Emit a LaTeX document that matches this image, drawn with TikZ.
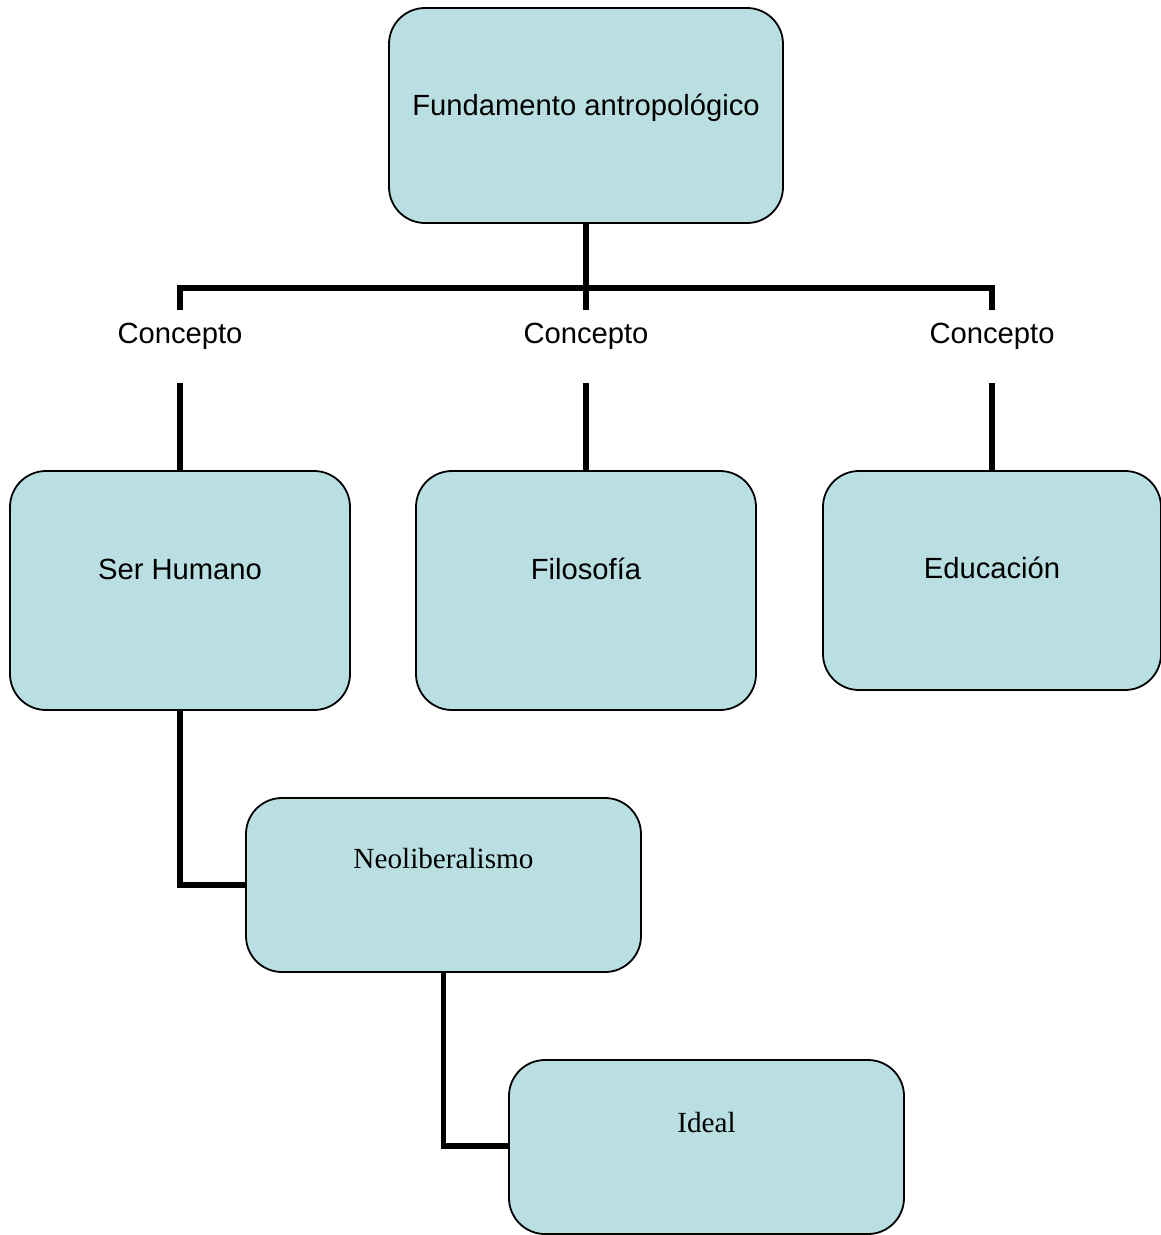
\documentclass[tikz,border=0pt]{standalone}
\usepackage{fontspec}
\setmainfont{Liberation Sans}
\newfontfamily\timesfont{Liberation Serif}
\definecolor{boxfill}{RGB}{186,223,226}
\begin{document}
\begin{tikzpicture}[x=1pt,y=-1pt,
  box/.style={draw=black,line width=1.8pt,fill=boxfill,rounded corners=36pt,inner sep=0pt},
  conn/.style={draw=black,line width=5.5pt},
  lbl/.style={font=\fontsize{29.2}{32}\selectfont,inner sep=0pt},
  tlbl/.style={font=\timesfont\fontsize{29.2}{32}\selectfont,inner sep=0pt},
  concept/.style={font=\fontsize{29.2}{32}\selectfont,text height=21pt,text depth=28pt,inner xsep=4pt,inner ysep=12pt}]
\useasboundingbox (0,0) rectangle (1161,1235);
% boxes
\node[box,minimum width=394pt,minimum height=215pt] (top) at (586,115.5) {};
\node[box,minimum width=340pt,minimum height=239pt] (ser) at (180,590.5) {};
\node[box,minimum width=340pt,minimum height=239pt] (fil) at (586,590.5) {};
\node[box,minimum width=338pt,minimum height=219pt] (edu) at (992,580.5) {};
\node[box,minimum width=395pt,minimum height=174pt] (neo) at (443.5,885) {};
\node[box,minimum width=395pt,minimum height=174pt] (ide) at (706.5,1147) {};
% texts
\node[lbl] (ttop) at (586,107.5) {Fundamento antropológico};
\node[lbl] (tser) at (180,569) {Ser Humano};
\node[lbl] (tfil) at (586,569) {Filosofía};
\node[lbl] (tedu) at (992,568) {Educación};
\node[tlbl] (tneo) at (443.5,859) {Neoliberalismo};
\node[tlbl] (tide) at (706.5,1122) {Ideal};
% concept labels
\node[concept] (c1) at (180,346.5) {Concepto};
\node[concept] (c2) at (586,346.5) {Concepto};
\node[concept] (c3) at (992,346.5) {Concepto};
% connectors
\draw[conn] (top.south) -- (c2.north);
\draw[conn] (c1.north) -- ++(0,-22) -| (c3.north);
\draw[conn] (c1.south) -- (ser.north);
\draw[conn] (c2.south) -- (fil.north);
\draw[conn] (c3.south) -- (edu.north);
\draw[conn] (ser.south) |- (neo.west);
\draw[conn] (neo.south) |- ([yshift=1pt]ide.west);
\end{tikzpicture}
\end{document}
